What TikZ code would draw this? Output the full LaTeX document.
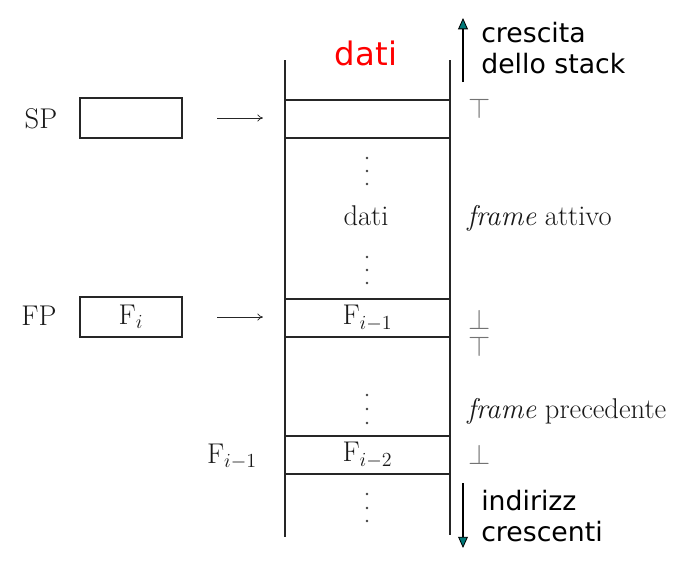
\RequirePackage{fix-cm}
\documentclass[tikz,border=0pt]{standalone}
\usepackage{fontspec}
\newfontfamily\verdana{DejaVu Sans}
\usetikzlibrary{positioning,arrows.meta}
\definecolor{stackred}{RGB}{255,0,0}
\definecolor{tipteal}{RGB}{0,120,120}
\newcommand{\bigserif}{\fontsize{20.3}{24}\selectfont}
\newcommand{\bigsans}{\verdana\fontsize{19}{22}\selectfont}

\begin{document}
\begin{tikzpicture}[x=0.025cm,y=-0.025cm,
  cell/.style={rectangle,draw=black!85,line width=1pt,minimum width=4.125cm,minimum height=0.95cm,inner sep=0pt,outer sep=0pt,text=black!90,font=\bigserif},
  reg/.style={rectangle,draw=black!85,line width=1pt,minimum width=2.55cm,minimum height=1cm,inner sep=0pt,outer sep=0pt,text=black!90,font=\bigserif},
  lbl/.style={inner sep=0pt,text=black!90,font=\bigserif},
  sym/.style={inner sep=0pt,text=black!55,font=\bigserif},
  note/.style={inner sep=0pt,align=left,anchor=base west,font=\bigsans},
  ptr/.style={-{To[length=4pt,width=5pt]},line width=0.5pt,black!85},
  growarrow/.style={-{Triangle[length=8pt,width=7pt,fill=tipteal,line width=0.6pt]},line width=1.6pt,black}
]
\useasboundingbox (0,0) rectangle (681,561);

\node[cell] (csp) at (367.5,119) {};
\node[cell] (cf1) at (367.5,318) {$\mathrm{F}_{i-1}$};
\node[cell] (cf2) at (367.5,455) {$\mathrm{F}_{i-2}$};

\coordinate (lt) at (285,60);
\coordinate (lb) at (285,537);
\coordinate (rt) at (450,60);
\coordinate (rb) at (450,535);
\draw[line width=1pt,black!85] (lt) -- (lb);
\draw[line width=1pt,black!85] (rt) -- (rb);

\node[inner sep=0pt,anchor=base,text=stackred,font=\verdana\fontsize{23}{26}\selectfont] (titolo) at (366,65) {dati};

% punti di sospensione
\foreach \y in {158,171,184, 257,270,283, 395,409,423, 494,508,521}
  \fill[black!75] (367,\y) circle (0.95pt);
\node[lbl,anchor=base] (dati) at (366,225) {dati};

\node[lbl,anchor=base] (sp) at (41,128) {SP};
\node[reg] (spbox) at (131,118) {};
\node[lbl,anchor=base] (fp) at (39,325) {FP};
\node[reg] (fpbox) at (131,317) {$\mathrm{F}_i$};
\node[lbl,anchor=base] (fprev) at (232,463) {$\mathrm{F}_{i-1}$};

\draw[ptr,shorten <=0.875cm,shorten >=0.55cm] (spbox.east) -- (spbox.east -| csp.west);
\draw[ptr,shorten <=0.875cm,shorten >=0.55cm] (fpbox.east) -- (fpbox.east -| cf1.west);

\node[sym] (t1) at (480,109) {$\top$};
\node[lbl,anchor=base west] (attivo) at (467,225) {\emph{frame} attivo};
\node[sym] (b1) at (480,320) {$\bot$};
\node[sym] (t2) at (480,347) {$\top$};
\node[lbl,anchor=base west] (prec) at (467,418) {\emph{frame} precedente};
\node[sym] (b2) at (480,455) {$\bot$};

\coordinate (gbase) at (463,82);
\coordinate (gtip) at (463,18);
\draw[growarrow] (gbase) -- (gtip);
\node[note] (crescita) at (481,73) {crescita\\dello stack};

\coordinate (ibase) at (463,483);
\coordinate (itip) at (463,548);
\draw[growarrow] (ibase) -- (itip);
\node[note] (indirizzi) at (481,541) {indirizz\\crescenti};

\end{tikzpicture}
\end{document}
